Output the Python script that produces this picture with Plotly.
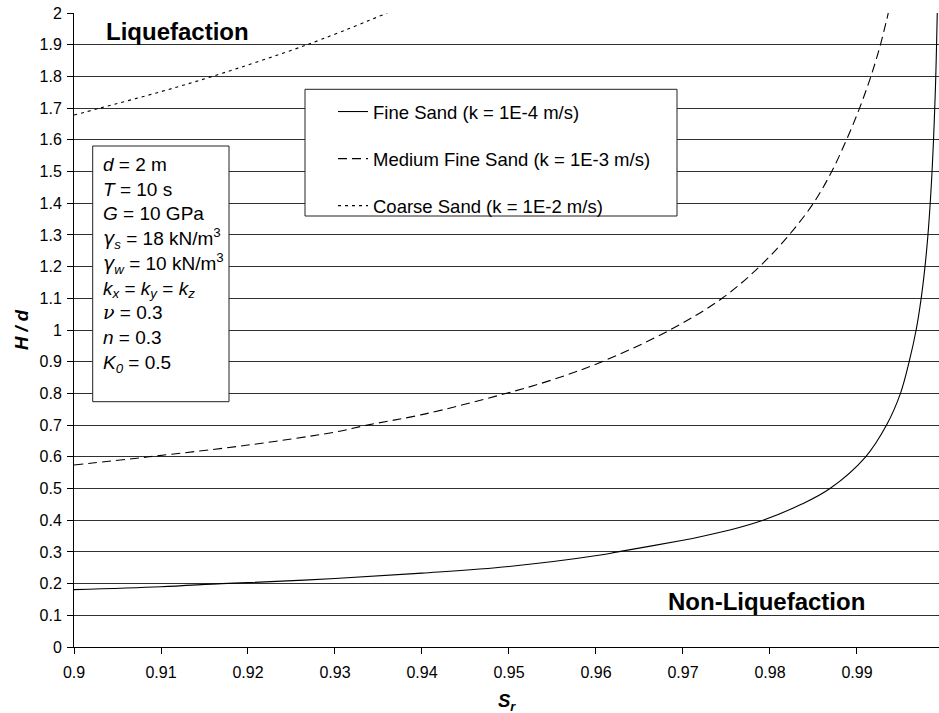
import plotly.graph_objects as go

# ---- data ----
fine_sr = [0.900, 0.910, 0.917, 0.920, 0.930, 0.940, 0.950, 0.9605, 0.9625, 0.970, 0.9720,
           0.9755, 0.9792, 0.9836, 0.9869, 0.9910, 0.9934, 0.9950, 0.9960, 0.9968, 0.99738,
           0.99782, 0.99816, 0.99842, 0.99863, 0.99880, 0.99894, 0.99906, 0.99915, 0.99923]
fine_hd = [0.181, 0.190, 0.200, 0.203, 0.216, 0.233, 0.254, 0.290, 0.300, 0.337, 0.348,
           0.370, 0.400, 0.450, 0.500, 0.600, 0.700, 0.800, 0.900, 1.000, 1.100,
           1.200, 1.300, 1.400, 1.500, 1.600, 1.700, 1.800, 1.900, 2.000]

medium_sr = [0.900, 0.9086, 0.920, 0.930, 0.9337, 0.940, 0.9494, 0.955, 0.9607, 0.9685,
             0.9745, 0.9788, 0.9822, 0.9850, 0.9871, 0.9888, 0.9903, 0.9916, 0.9927, 0.9936]
medium_hd = [0.574, 0.600, 0.637, 0.678, 0.700, 0.733, 0.798, 0.843, 0.900, 1.000,
             1.100, 1.200, 1.300, 1.400, 1.500, 1.600, 1.700, 1.800, 1.900, 2.000]

coarse_sr = [0.900, 0.9030, 0.910, 0.9159, 0.9268, 0.9360]
coarse_hd = [1.678, 1.700, 1.752, 1.800, 1.900, 2.000]

series_names = ["Fine Sand (k = 1E-4 m/s)",
                "Medium Fine Sand (k = 1E-3 m/s)",
                "Coarse Sand (k = 1E-2 m/s)"]

GAM = "<span style='font-family:DejaVu Sans'>γ</span>"
NU = "<span style='font-family:DejaVu Serif'>ν</span>"
param_lines = ["<i>d</i> = 2 m",
               "<i>T</i> = 10 s",
               "<i>G</i> = 10 GPa",
               f"<i>{GAM}<sub>s</sub></i> = 18 kN/m<sup>3</sup>",
               f"<i>{GAM}<sub>w</sub></i> = 10 kN/m<sup>3</sup>",
               "<i>k<sub>x</sub></i> = <i>k<sub>y</sub></i> = <i>k<sub>z</sub></i>",
               f"<i>{NU}</i> = 0.3",
               "<i>n</i> = 0.3",
               "<i>K<sub>0</sub></i> = 0.5"]

FONT = "Liberation Sans, Arial, sans-serif"

fig = go.Figure()
fig.add_trace(go.Scatter(x=fine_sr, y=fine_hd, mode="lines", name=series_names[0],
                         line=dict(color="black", width=1.1, shape="spline", smoothing=1.0),
                         legendgroup="a"))
fig.add_trace(go.Scatter(x=medium_sr, y=medium_hd, mode="lines", name=series_names[1],
                         line=dict(color="black", width=1.1, dash="9px,5px", shape="spline", smoothing=1.0),
                         legendgroup="b"))
fig.add_trace(go.Scatter(x=coarse_sr, y=coarse_hd, mode="lines", name=series_names[2],
                         line=dict(color="black", width=1.1, dash="3px,4px", shape="spline", smoothing=1.0),
                         legendgroup="c"))

W, H = 939, 713
L, R, T, B = 74, 0, 13, 66
PW, PH = W - L - R, H - T - B


def px(xp):
    return (xp - L) / PW


def py(yp):
    return (H - B - yp) / PH


fig.update_layout(
    width=W, height=H,
    margin=dict(l=L, r=R, t=T, b=B),
    paper_bgcolor="white", plot_bgcolor="white",
    font=dict(family=FONT, size=16, color="black"),
    showlegend=True,
    legend=dict(x=px(333), y=py(93), xanchor="left", yanchor="top",
                bgcolor="rgba(0,0,0,0)", borderwidth=0,
                font=dict(family=FONT, size=18.5, color="black"),
                tracegroupgap=20, traceorder="grouped"),
    xaxis=dict(range=[0.9, 0.99943], tick0=0.9, dtick=0.01, showgrid=False,
               showline=True, linecolor="black", linewidth=1,
               ticks="outside", ticklen=6, tickcolor="black", ticklabelstandoff=5,
               tickfont=dict(family=FONT, size=16, color="black"), zeroline=False),
    yaxis=dict(range=[0, 2], tick0=0, dtick=0.1, showgrid=True, gridcolor="#303030", gridwidth=1,
               showline=True, linecolor="black", linewidth=1,
               ticks="outside", ticklen=6, tickcolor="black", ticklabelstandoff=2,
               tickfont=dict(family=FONT, size=16, color="black"), zeroline=False),
)

# boxes
fig.add_shape(type="rect", xref="paper", yref="paper",
              x0=px(92.7), x1=px(229), y0=py(401.7), y1=py(146),
              line=dict(color="#222", width=1), fillcolor="white", layer="above")
fig.add_shape(type="rect", xref="paper", yref="paper",
              x0=px(305), x1=px(677), y0=py(216), y1=py(89.3),
              line=dict(color="#222", width=1), fillcolor="white", layer="above")

fig.add_annotation(xref="paper", yref="paper", x=px(101), y=py(152), xanchor="left", yanchor="top",
                   text="<br>".join(param_lines), align="left", showarrow=False,
                   font=dict(family=FONT, size=19, color="black"))

fig.add_annotation(xref="paper", yref="paper", x=px(177), y=py(31), xanchor="center", yanchor="middle",
                   text="<b>Liquefaction</b>", showarrow=False,
                   font=dict(family=FONT, size=24, color="black"))
fig.add_annotation(xref="paper", yref="paper", x=px(766), y=py(601), xanchor="center", yanchor="middle",
                   text="<b>Non-Liquefaction</b>", showarrow=False,
                   font=dict(family=FONT, size=24, color="black"))

# axis titles
fig.add_annotation(xref="paper", yref="paper", x=px(21), y=0.5, xanchor="center", yanchor="middle",
                   text="<b><i>H / d</i></b>", textangle=-90, showarrow=False,
                   font=dict(family=FONT, size=18.5, color="black"))
fig.add_annotation(xref="paper", yref="paper", x=px(507), y=py(702), xanchor="center", yanchor="middle",
                   text="<b><i>S<sub>r</sub></i></b>", showarrow=False,
                   font=dict(family=FONT, size=18.5, color="black"))

fig.write_html("out.html")
